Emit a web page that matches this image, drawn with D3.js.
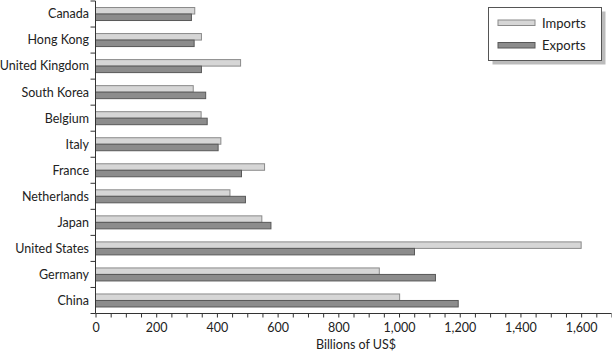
<!DOCTYPE html>
<html><head><meta charset="utf-8">
<script src="https://cdn.jsdelivr.net/npm/d3@7"></script>
<style>
html,body{margin:0;padding:0;background:#fff;}
svg{display:block;font-family:"Gill Sans","Lato","Open Sans",sans-serif;}
</style></head>
<body>
<svg id="chart" width="612" height="352"></svg>
<script>
const categories = ["Canada","Hong Kong","United Kingdom","South Korea","Belgium","Italy","France","Netherlands","Japan","United States","Germany","China"];
const imports = [327, 349, 478, 322, 348, 413, 557, 443, 548, 1600, 935, 1002];
const exports_ = [316, 325, 349, 363, 368, 404, 481, 494, 578, 1051, 1120, 1195];
const seriesNames = ["Imports","Exports"];
const xTickLabels = [0,200,400,600,800,1000,1200,1400,1600];

(function(){
const svg = d3.select("#chart");
const mLeft = 95.5, mRight = 611.5, mTop = 1, mBottom = 313.5;
const x = d3.scaleLinear().domain([0,1700]).range([mLeft,mRight]);
const y = d3.scaleBand().domain(categories).range([mTop,mBottom]).paddingInner(0).paddingOuter(0);
const barH = 6.5;
const colors = {fill:["#d6d6d6","#8c8c8c"], stroke:["#8a8a8a","#585858"]};

const g = svg.append("g");
categories.forEach((c,i)=>{
  const y0 = y(c) + y.bandwidth()/2 - barH;
  g.append("rect").attr("x",x(0)).attr("y",y0).attr("width",x(imports[i])-x(0)).attr("height",barH)
    .attr("fill",colors.fill[0]).attr("stroke",colors.stroke[0]).attr("stroke-width",1);
  g.append("rect").attr("x",x(0)).attr("y",y0+barH).attr("width",x(exports_[i])-x(0)).attr("height",barH)
    .attr("fill",colors.fill[1]).attr("stroke",colors.stroke[1]).attr("stroke-width",1);
});

// x axis
const xAxis = d3.axisBottom(x).tickValues(d3.range(0,1701,50)).tickSize(4)
  .tickFormat(d => xTickLabels.includes(d) ? d3.format(",")(d) : "");
const xg = svg.append("g").attr("transform",`translate(0,${mBottom})`).call(xAxis);
xg.attr("font-family",null);
xg.select(".domain").attr("stroke","#333").attr("d",`M${mLeft},0H${mRight}`);
xg.selectAll(".tick line").attr("stroke","#333");
xg.selectAll(".tick text").attr("font-size",12.5).attr("fill","#222").attr("dy","0.95em");

svg.append("text").attr("x",356).attr("y",349).attr("text-anchor","middle")
  .attr("font-size",12.5).attr("fill","#222").text("Billions of US$");

// y axis
const yBoundaries = d3.range(categories.length+1).map(i => mTop + i*y.step());
const yg = svg.append("g");
yg.append("line").attr("x1",mLeft).attr("x2",mLeft).attr("y1",mTop).attr("y2",mBottom).attr("stroke","#333");
yBoundaries.forEach(v=>{
  yg.append("line").attr("x1",mLeft-5).attr("x2",mLeft).attr("y1",v).attr("y2",v).attr("stroke","#333");
});
categories.forEach(c=>{
  yg.append("text").attr("x",89).attr("y",y(c)+y.bandwidth()/2).attr("dy","0.35em")
    .attr("text-anchor","end").attr("font-size",12.5).attr("fill","#222").text(c);
});

// legend
const lg = svg.append("g");
lg.append("rect").attr("x",492.5).attr("y",11.5).attr("width",113).attr("height",53).attr("fill","#bbb");
lg.append("rect").attr("x",488.5).attr("y",7.5).attr("width",113).attr("height",53).attr("fill","#fff").attr("stroke","#555");
seriesNames.forEach((s,i)=>{
  const yy = 20 + i*22.5;
  lg.append("rect").attr("x",498).attr("y",yy).attr("width",37).attr("height",5.5)
    .attr("fill",colors.fill[i]).attr("stroke",colors.stroke[i]);
  lg.append("text").attr("x",542).attr("y",yy+3).attr("dy","0.35em").attr("font-size",13).attr("fill","#222").text(s);
});
})();
</script>
</body></html>
